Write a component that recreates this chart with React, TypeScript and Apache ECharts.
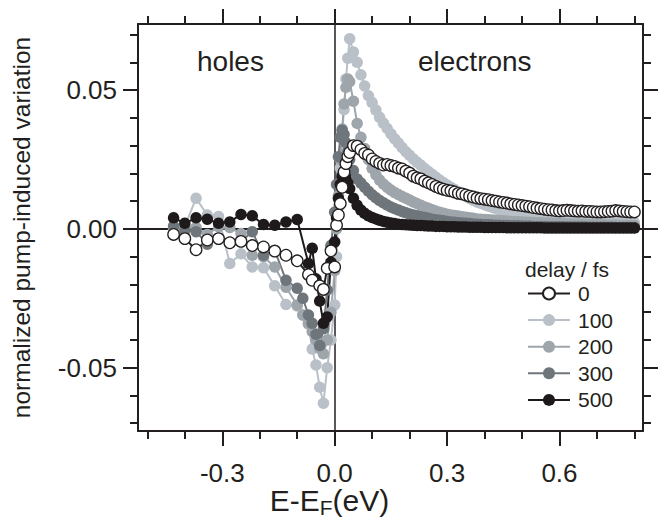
import React, { useEffect, useRef } from "react";
import * as echarts from "echarts";

// Photoelectron energy E - E_F (eV)
const energy = [
  -0.43, -0.40, -0.37, -0.34, -0.31, -0.28, -0.25, -0.22, -0.19, -0.16, -0.13, -0.10,
  -0.085, -0.07, -0.06, -0.05, -0.04, -0.03, -0.02, -0.01, 0.0, 0.005, 0.01, 0.015, 0.02, 0.025, 0.03, 0.035, 0.04, 0.05,
  0.06, 0.07, 0.08, 0.09, 0.10, 0.11, 0.12, 0.13, 0.14, 0.15, 0.16, 0.17, 0.18, 0.19, 0.20, 0.21, 0.22, 0.23, 0.24, 0.25,
  0.26, 0.27, 0.28, 0.29, 0.30, 0.31, 0.32, 0.33, 0.34, 0.35, 0.36, 0.37, 0.38, 0.39, 0.40, 0.41, 0.42, 0.43, 0.44, 0.45,
  0.46, 0.47, 0.48, 0.49, 0.50, 0.51, 0.52, 0.53, 0.54, 0.55, 0.56, 0.57, 0.58, 0.59, 0.60, 0.61, 0.62, 0.63, 0.64, 0.65,
  0.66, 0.67, 0.68, 0.69, 0.70, 0.71, 0.72, 0.73, 0.74, 0.75, 0.76, 0.77, 0.78, 0.79, 0.80,
];

const delay0 = [
  -0.002, -0.0035, -0.0075, -0.004, -0.0035, -0.005, -0.0045, -0.006, -0.0065, -0.008, -0.0095, -0.0115,
  null, -0.0165, -0.0185, null, -0.0205, -0.0218, -0.0142, -0.0079, -0.0137, 0.0013, 0.005, 0.0091, 0.015, 0.0205, 0.0235, 0.026, 0.0275, 0.030,
  0.0298, 0.0285, 0.0272, 0.0266, 0.0252, 0.0243, 0.0236, 0.0230, 0.0232, 0.0228, 0.0225, 0.0219, 0.0216, 0.0208, 0.0201, 0.0190, 0.0184, 0.0180, 0.0172, 0.0166,
  0.0160, 0.0153, 0.0147, 0.0143, 0.0139, 0.0137, 0.0133, 0.0128, 0.0126, 0.0122, 0.0118, 0.0115, 0.0111, 0.0109, 0.0107, 0.0105, 0.0102, 0.0100, 0.0097, 0.0095,
  0.0093, 0.0090, 0.0088, 0.0086, 0.0084, 0.0082, 0.0080, 0.0077, 0.0075, 0.0073, 0.0071, 0.0069, 0.0068, 0.0066, 0.0065, 0.0066, 0.0067, 0.0066, 0.0065, 0.0064,
  0.0065, 0.0063, 0.0063, 0.0062, 0.0061, 0.0061, 0.0062, 0.0063, 0.0064, 0.0066, 0.0065, 0.0063, 0.0062, 0.0061, 0.0061,
];

const delay100 = [
  0.001, 0.001, 0.011, 0.005, 0.0045, -0.0125, -0.009, -0.0137, -0.014, -0.0205, -0.0272, -0.0278,
  -0.031, -0.0343, -0.0433, -0.049, -0.057, -0.0628, -0.050, -0.040, -0.0274, -0.010, 0.008, 0.022, 0.035, 0.043, 0.054, 0.0615, 0.0685, 0.0637,
  0.0600, 0.0555, 0.0515, 0.0480, 0.0455, 0.0428, 0.0402, 0.0381, 0.0362, 0.0343, 0.0325, 0.0309, 0.0293, 0.0278, 0.0265, 0.0252, 0.0240, 0.0229, 0.0218, 0.0207,
  0.0197, 0.0186, 0.0176, 0.0167, 0.0158, 0.0150, 0.0142, 0.0134, 0.0126, 0.0118, 0.0110, 0.0103, 0.0097, 0.0092, 0.0087, 0.0082, 0.0078, 0.0073, 0.0069, 0.0065,
  0.0062, 0.0059, 0.0056, 0.0053, 0.0051, 0.0049, 0.0047, 0.0045, 0.0043, 0.0041, 0.0040, 0.0038, 0.0037, 0.0036, 0.0035, 0.0034, 0.0033, 0.0032, 0.0031, 0.0030,
  0.0030, 0.0029, 0.0028, 0.0028, 0.0027, 0.0027, 0.0026, 0.0026, 0.0025, 0.0025, 0.0024, 0.0024, 0.0023, 0.0023, 0.0023,
];

const delay200 = [
  0.0, 0.0007, 0.0005, -0.002, 0.0008, 0.0005, -0.0017, -0.0095, -0.010, -0.0137, -0.021, -0.0274,
  -0.031, -0.034, -0.037, -0.040, -0.043, -0.045, -0.040, -0.030, -0.015, 0.0, 0.012, 0.025, 0.036, 0.045, 0.051, 0.054, 0.053, 0.046,
  0.038, 0.033, 0.029, 0.025, 0.0218, 0.0195, 0.0176, 0.0162, 0.0150, 0.0140, 0.0131, 0.0124, 0.0117, 0.0110, 0.0104, 0.0097, 0.0091, 0.0085, 0.0079, 0.0074,
  0.0069, 0.0064, 0.0060, 0.0056, 0.0053, 0.0050, 0.0048, 0.0046, 0.0044, 0.0042, 0.0040, 0.0038, 0.0036, 0.0035, 0.0034, 0.0033, 0.0032, 0.0031, 0.0030, 0.0029,
  0.0028, 0.0027, 0.0026, 0.0026, 0.0025, 0.0024, 0.0024, 0.0023, 0.0022, 0.0022, 0.0021, 0.0021, 0.0020, 0.0020, 0.0019, 0.0019, 0.0018, 0.0018, 0.0017, 0.0017,
  0.0017, 0.0016, 0.0016, 0.0016, 0.0015, 0.0015, 0.0015, 0.0014, 0.0014, 0.0014, 0.0013, 0.0013, 0.0013, 0.0012, 0.0012,
];

const delay300 = [
  0.001, -0.0005, -0.001, -0.0055, -0.0035, -0.005, -0.0045, -0.001, -0.0095, -0.0077, -0.0185, -0.0214,
  -0.025, -0.031, -0.034, -0.038, -0.042, -0.036, -0.022, -0.006, 0.006, 0.016, 0.026, 0.033, 0.0355, 0.034, 0.031, 0.028, 0.025, 0.021,
  0.018, 0.0165, 0.0150, 0.0136, 0.0123, 0.0112, 0.0102, 0.0094, 0.0086, 0.0079, 0.0073, 0.0068, 0.0063, 0.0058, 0.0054, 0.0050, 0.0047, 0.0044, 0.0041, 0.0038,
  0.0035, 0.0033, 0.0031, 0.0029, 0.0027, 0.0025, 0.0024, 0.0022, 0.0021, 0.0020, 0.0019, 0.0018, 0.0017, 0.0016, 0.0015, 0.0015, 0.0014, 0.0013, 0.0013, 0.0012,
  0.0012, 0.0011, 0.0011, 0.0011, 0.0010, 0.0010, 0.0010, 0.0009, 0.0009, 0.0009, 0.0009, 0.0008, 0.0008, 0.0008, 0.0008, 0.0008, 0.0007, 0.0007, 0.0007, 0.0007,
  0.0007, 0.0007, 0.0006, 0.0006, 0.0006, 0.0006, 0.0006, 0.0006, 0.0006, 0.0005, 0.0005, 0.0005, 0.0005, 0.0005, 0.0005,
];

const delay500 = [
  0.004, 0.002, 0.004, 0.0035, 0.002, 0.0025, 0.0052, 0.0047, 0.0016, 0.0013, 0.0025, 0.0034,
  null, -0.0125, -0.007, -0.018, -0.026, -0.034, -0.0317, -0.012, -0.0047, 0.004, 0.011, 0.016, 0.019, 0.0195, 0.0185, 0.0165, 0.0145, 0.011,
  0.0085, 0.0068, 0.0056, 0.0047, 0.0041, 0.0036, 0.0031, 0.0027, 0.0024, 0.0021, 0.0019, 0.0017, 0.0016, 0.0015, 0.0014, 0.0013, 0.0012, 0.0012, 0.0011, 0.0010,
  0.0010, 0.0009, 0.0009, 0.0009, 0.0008, 0.0008, 0.0008, 0.0007, 0.0007, 0.0007, 0.0006, 0.0006, 0.0006, 0.0006, 0.0005, 0.0005, 0.0005, 0.0005, 0.0005, 0.0005,
  0.0004, 0.0004, 0.0004, 0.0004, 0.0004, 0.0004, 0.0004, 0.0004, 0.0004, 0.0004, 0.0003, 0.0003, 0.0003, 0.0003, 0.0003, 0.0003, 0.0003, 0.0003, 0.0003, 0.0003,
  0.0003, 0.0003, 0.0003, 0.0003, 0.0003, 0.0003, 0.0003, 0.0003, 0.0003, 0.0003, 0.0003, 0.0003, 0.0003, 0.0003, 0.0003,
];

const delayNames = ["0", "100", "200", "300", "500"];
const xMajorTicks = [-0.3, 0, 0.3, 0.6];
const xMinorTicks = [-0.5, -0.4, -0.2, -0.1, 0.1, 0.2, 0.4, 0.5, 0.7, 0.8];
const yMajorTicks = [-0.05, 0, 0.05];
const yMinorTicks = [-0.07, -0.06, -0.04, -0.03, -0.02, -0.01, 0.01, 0.02, 0.03, 0.04, 0.06, 0.07];

const X_MIN = -0.525;
const X_MAX = 0.823;
const Y_MIN = -0.0728;
const Y_MAX = 0.0738;

const INK = "#231f20";
const FONT = "'Liberation Sans', Arial, Helvetica, sans-serif";

function xAxisDef(position: string, ticks: number[], len: number, withLabels: boolean, extra: any = {}) {
  return {
    type: "value",
    min: X_MIN,
    max: X_MAX,
    position,
    axisLine: { show: true, onZero: false, lineStyle: { color: INK, width: 2 } },
    axisTick: { show: true, inside: false, length: len, customValues: ticks, lineStyle: { color: INK, width: 2 } },
    axisLabel: withLabels
      ? { show: true, customValues: ticks, formatter: (v: number) => v.toFixed(1), margin: 29, fontSize: 26, color: INK, fontFamily: FONT }
      : { show: false },
    splitLine: { show: false },
    ...extra,
  };
}

function yAxisDef(position: string, ticks: number[], len: number, withLabels: boolean, extra: any = {}) {
  return {
    type: "value",
    min: Y_MIN,
    max: Y_MAX,
    position,
    axisLine: { show: true, onZero: false, lineStyle: { color: INK, width: 2 } },
    axisTick: { show: true, inside: false, length: len, customValues: ticks, lineStyle: { color: INK, width: 2 } },
    axisLabel: withLabels
      ? { show: true, customValues: ticks, formatter: (v: number) => v.toFixed(2), margin: 21, fontSize: 26, color: INK, fontFamily: FONT }
      : { show: false },
    splitLine: { show: false },
    ...extra,
  };
}

export default function App() {
  const ref = useRef<HTMLDivElement>(null);

  useEffect(() => {
    if (!ref.current) return;
    const chart = echarts.init(ref.current, null, { renderer: "svg" });

    const styles: Record<string, { fill: string; line: string; border: string; bw: number; data: (number | null)[] }> = {
      "0": { fill: "#ffffff", line: INK, border: INK, bw: 1.3, data: delay0 },
      "100": { fill: "#b9c0c7", line: "#b9c0c7", border: "#b9c0c7", bw: 0, data: delay100 },
      "200": { fill: "#9ea5ab", line: "#9ea5ab", border: "#9ea5ab", bw: 0, data: delay200 },
      "300": { fill: "#6f767b", line: "#6f767b", border: "#6f767b", bw: 0, data: delay300 },
      "500": { fill: "#1e1a1b", line: "#1e1a1b", border: "#1e1a1b", bw: 0, data: delay500 },
    };
    const drawOrder = ["100", "200", "300", "500", "0"];

    const series = drawOrder.map((name) => {
      const s = styles[name];
      return {
        name,
        type: "line",
        xAxisIndex: 0,
        yAxisIndex: 0,
        data: energy.map((e, i) => [e, s.data[i]]),
        connectNulls: true,
        showAllSymbol: true,
        symbol: "circle",
        symbolSize: 11.5,
        lineStyle: { color: s.line, width: 2 },
        itemStyle: { color: s.fill, borderColor: s.border, borderWidth: s.bw, opacity: 1 },
        emphasis: { disabled: true },
        clip: true,
      };
    });

    chart.setOption({
      animation: false,
      backgroundColor: "#ffffff",
      grid: { left: 138, top: 24, width: 505, height: 407, containLabel: false, outerBoundsMode: "none" },
      xAxis: [
        xAxisDef("bottom", xMajorTicks, 15, true, {
          name: "{a|E-E}{s|F}{a|(eV)}",
          nameLocation: "middle",
          nameGap: 53,
          nameMoveOverlap: false,
          nameTextStyle: {
            color: INK,
            fontFamily: FONT,
            padding: [0, 122, 0, 0],
            rich: {
              a: { fontSize: 30, fontFamily: FONT, color: INK, lineHeight: 32 },
              s: { fontSize: 21, fontFamily: FONT, color: INK, lineHeight: 18, padding: [14, 0, 0, 0] },
            },
          },
        }),
        xAxisDef("bottom", xMinorTicks, 8, false, { axisLine: { show: false, onZero: false } }),
        xAxisDef("top", xMajorTicks, 15, false),
        xAxisDef("top", xMinorTicks, 8, false, { axisLine: { show: false, onZero: false } }),
        {
          type: "value", min: X_MIN, max: X_MAX,
          axisLine: { show: true, onZero: true, lineStyle: { color: INK, width: 2 } },
          axisTick: { show: false }, axisLabel: { show: false }, splitLine: { show: false },
        },
      ],
      yAxis: [
        yAxisDef("left", yMajorTicks, 15, true, {
          name: "normalized pump-induced variation",
          nameLocation: "middle",
          nameGap: 104,
          nameMoveOverlap: false,
          nameTextStyle: { color: INK, fontFamily: FONT, fontSize: 24.5 },
        }),
        yAxisDef("left", yMinorTicks, 8, false, { axisLine: { show: false, onZero: false } }),
        yAxisDef("right", yMajorTicks, 15, false),
        yAxisDef("right", yMinorTicks, 8, false, { axisLine: { show: false, onZero: false } }),
        {
          type: "value", min: Y_MIN, max: Y_MAX,
          axisLine: { show: true, onZero: true, lineStyle: { color: INK, width: 1.5 } },
          axisTick: { show: false }, axisLabel: { show: false }, splitLine: { show: false },
        },
      ],
      legend: {
        orient: "vertical",
        left: 527,
        top: 283,
        padding: 0,
        itemWidth: 42,
        itemHeight: 15,
        itemGap: 5.6,
        selectedMode: false,
        data: delayNames,
        textStyle: { fontSize: 21, color: INK, fontFamily: FONT, padding: [0, 0, 0, 3] },
      },
      graphic: [
        { type: "text", left: 197, top: 47, style: { text: "holes", fontSize: 28, fontFamily: FONT, fill: INK } },
        { type: "text", left: 418, top: 47, style: { text: "electrons", fontSize: 28, fontFamily: FONT, fill: INK } },
        { type: "text", left: 525, top: 259, style: { text: "delay / fs", fontSize: 21, fontFamily: FONT, fill: INK } },
      ],
      series,
    });

    return () => chart.dispose();
  }, []);

  return (
    <div
      ref={ref}
      style={{ position: "fixed", left: 0, top: 0, width: 670, height: 527, background: "#fff" }}
    />
  );
}
